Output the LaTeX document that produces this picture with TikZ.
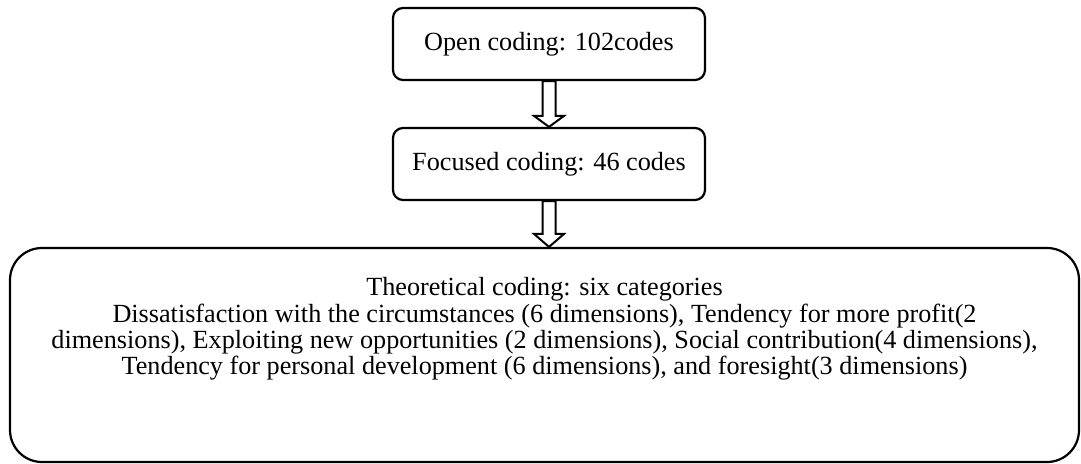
\documentclass[tikz,border=0pt]{standalone}
\usepackage{fontspec}
\setmainfont{Liberation Serif}
\usetikzlibrary{calc}
\begin{document}
\begin{tikzpicture}[x=0.5pt,y=-0.5pt,
  codebox/.style={draw=black, line width=1.1pt, rounded corners=5pt, minimum width=156pt, minimum height=36pt, inner sep=0pt, font=\fontsize{13.1}{13.15}\selectfont},
  bigbox/.style={draw=black, line width=1.1pt, rounded corners=16pt, minimum width=534.5pt, minimum height=107pt, inner sep=0pt},
  bodytext/.style={align=center, inner sep=0pt, font=\fontsize{13.1}{13.15}\selectfont},
  blockarrow/.style={draw=black, line width=1pt, fill=white, line join=miter}
]
\useasboundingbox (0,0) rectangle (1081,464);
\node[codebox] (open) at (549,44) {Open coding: 102codes};
\node[codebox] (focused) at (549,164) {Focused coding: 46 codes};
\node[bigbox] (theory) at (544.5,355) {};
\node[bodytext] (theorytext) at (544.5,329) {Theoretical coding: six categories\\
Dissatisfaction with the circumstances (6 dimensions), Tendency for more profit(2\\
dimensions), Exploiting new opportunities (2 dimensions), Social contribution(4 dimensions),\\
Tendency for personal development (6 dimensions), and foresight(3 dimensions)};
% block arrows
\draw[blockarrow] let \p1=(open.south), \p2=(focused.north) in
  (\x1-3.25pt,\y1) -- (\x1+3.25pt,\y1) -- (\x1+3.25pt,\y2+5.5pt) -- (\x1+7.5pt,\y2+5.5pt)
  -- (\x1,\y2) -- (\x1-7.5pt,\y2+5.5pt) -- (\x1-3.25pt,\y2+5.5pt) -- cycle;
\draw[blockarrow] let \p1=(focused.south), \p2=(theory.north) in
  (\x1-3.25pt,\y1) -- (\x1+3.25pt,\y1) -- (\x1+3.25pt,\y2+6.5pt) -- (\x1+7.5pt,\y2+6.5pt)
  -- (\x1,\y2) -- (\x1-7.5pt,\y2+6.5pt) -- (\x1-3.25pt,\y2+6.5pt) -- cycle;
\end{tikzpicture}
\end{document}
